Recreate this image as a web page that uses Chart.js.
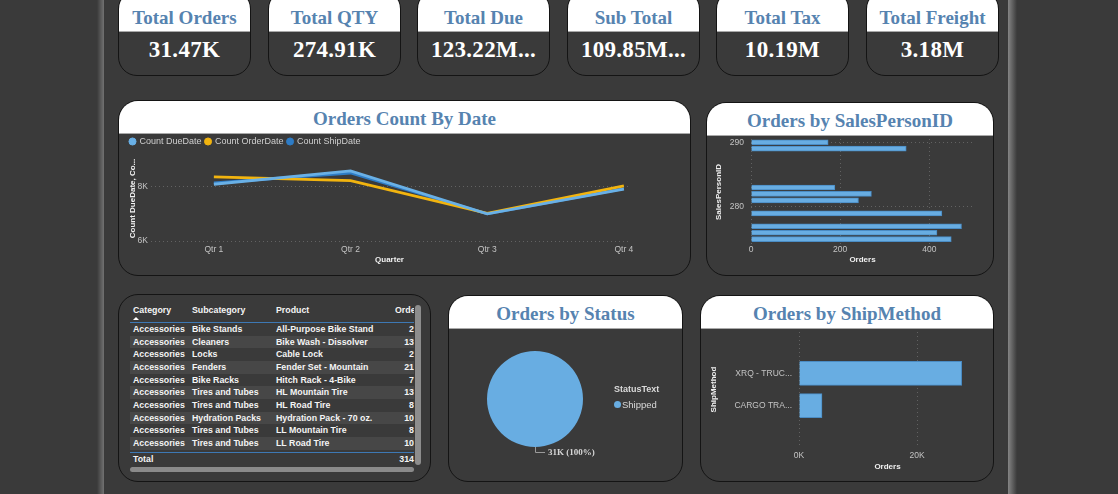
<!DOCTYPE html>
<html>
<head>
<meta charset="utf-8">
<title>Orders Dashboard</title>
<script src="https://cdn.jsdelivr.net/npm/chart.js@4.4.1/dist/chart.umd.min.js"></script>
<style>
  body { margin:0; width:1118px; height:494px; overflow:hidden; background:#3a3a3a; position:relative;
         font-family:"Liberation Sans", Arial, sans-serif; }
  .band { position:absolute; top:0; height:494px; }
  .card { position:absolute; box-sizing:border-box; border:1px solid #141414; border-radius:20px;
          background:#3a3a3a; overflow:hidden; }
  .hdr { position:absolute; left:0; right:0; top:0; background:#fff; border-bottom:1px solid #a9a9a9;
         color:#5683b0; font:bold 19px "Liberation Serif", serif; text-align:center; white-space:nowrap; }
  .kval { position:absolute; left:0; right:0; text-align:center; color:#fff;
          font:bold 23px "Liberation Serif", serif; letter-spacing:0.3px; }
  canvas { position:absolute; }
  .t { position:absolute; color:#f4f4f4; font:bold 8.8px "Liberation Sans", Arial, sans-serif; white-space:nowrap; }
  .lg { position:absolute; color:#d9d9d9; white-space:nowrap; font-family:"Liberation Sans", Arial, sans-serif; }
</style>
</head>
<body>
<div class="band" style="left:97px;width:7px;background:linear-gradient(to right,#3a3a3a,#727272);"></div>
<div class="band" style="left:1008px;width:9px;background:linear-gradient(to right,#858585,#3a3a3a);"></div>

<div id="kpis"></div>

<div class="card" style="left:118px;top:100px;width:573px;height:176px;">
  <div class="hdr" style="height:32px;line-height:36px;">Orders Count By Date</div>
</div>
<div class="card" style="left:706px;top:102px;width:288px;height:174px;">
  <div class="hdr" style="height:32px;line-height:36px;">Orders by SalesPersonID</div>
</div>
<div class="card" style="left:118px;top:294px;width:313px;height:188px;"></div>
<div class="card" style="left:448px;top:295px;width:235px;height:187px;">
  <div class="hdr" style="height:32px;line-height:36px;">Orders by Status</div>
</div>
<div class="card" style="left:700px;top:295px;width:294px;height:187px;">
  <div class="hdr" style="height:32px;line-height:36px;">Orders by ShipMethod</div>
</div>

<canvas id="lineCv" width="571" height="141" style="left:119px;top:133px;"></canvas>
<canvas id="spCv" width="286" height="140" style="left:707px;top:134px;"></canvas>
<canvas id="pieCv" width="234" height="153" style="left:449px;top:328px;"></canvas>
<canvas id="shipCv" width="292" height="153" style="left:701px;top:328px;"></canvas>

<div class="lg" style="left:614px;top:384px;font-weight:bold;font-size:9px;">StatusText</div>
<div style="position:absolute;left:614px;top:401px;width:7px;height:7px;border-radius:50%;background:#68ade2;"></div>
<div class="lg" id="statusLegend" style="left:622px;top:399px;font-size:9.5px;"></div>

<div id="tbl"></div>

<script>
// ---- data ----
const kpiTitles = ['Total Orders', 'Total QTY', 'Total Due', 'Sub Total', 'Total Tax', 'Total Freight'];
const kpiValues = ['31.47K', '274.91K', '123.22M...', '109.85M...', '10.19M', '3.18M'];

const quarters = ['Qtr 1', 'Qtr 2', 'Qtr 3', 'Qtr 4'];
const countDueDate   = [8070, 8560, 6990, 7890];
const countOrderDate = [8340, 8200, 7010, 8010];
const countShipDate  = [8120, 8480, 6990, 7910];
const dateTicks      = [6000, 8000];

const salesPersonIds    = [290, 289, 283, 282, 281, 279, 277, 276, 275];
const salesPersonOrders = [173, 348, 188, 270, 241, 428, 472, 417, 449];
const salesPersonTicks  = [280, 290];
const salesOrderTicks   = [0, 200, 400];

const statusText   = ['Shipped'];
const statusOrders = [31470];

const shipMethods    = ['XRQ - TRUC...', 'CARGO TRA...'];
const shipOrders     = [27570, 3900];
const shipOrderTicks = [0, 20000];

const tblHeader      = ['Category', 'Subcategory', 'Product', 'Orders'];
const tblCategory    = ['Accessories', 'Accessories', 'Accessories', 'Accessories', 'Accessories', 'Accessories',
                        'Accessories', 'Accessories', 'Accessories', 'Accessories', 'Accessories'];
const tblSubcategory = ['Bike Stands', 'Cleaners', 'Locks', 'Fenders', 'Bike Racks', 'Tires and Tubes',
                        'Tires and Tubes', 'Hydration Packs', 'Tires and Tubes', 'Tires and Tubes', 'Pumps'];
const tblProduct     = ['All-Purpose Bike Stand', 'Bike Wash - Dissolver', 'Cable Lock', 'Fender Set - Mountain',
                        'Hitch Rack - 4-Bike', 'HL Mountain Tire', 'HL Road Tire', 'Hydration Pack - 70 oz.',
                        'LL Mountain Tire', 'LL Road Tire', 'Minipump'];
const tblOrders      = ['2', '13', '2', '21', '7', '13', '8', '10', '8', '10', '8'];
const tblTotal       = '314';

// ---- KPI cards ----
const kpiLeft = [118, 268, 417, 567, 716, 866];
let kh = '';
kpiTitles.forEach((t, i) => {
  kh += '<div class="card" style="left:' + kpiLeft[i] + 'px;top:-10px;width:133px;height:86px;border-radius:19px;">' +
        '<div class="hdr" style="height:40px;line-height:20px;"><div style="position:absolute;left:0;right:0;top:17px;">' + t + '</div></div>' +
        '<div class="kval" style="top:45px;line-height:28px;">' + kpiValues[i] + '</div></div>';
});
document.getElementById('kpis').innerHTML = kh;

// ---- table ----
const colX = [133, 192, 276];
const rowH = 12.67;
let th = '';
tblHeader.slice(0, 3).forEach((h, i) => {
  th += '<div class="t" style="left:' + colX[i] + 'px;top:305px;">' + h + '</div>';
});
th += '<div style="position:absolute;left:395px;top:300px;width:19px;height:16px;overflow:hidden;">' +
      '<div class="t" style="left:0;top:5px;">' + tblHeader[3] + '</div></div>';
th += '<div style="position:absolute;left:133px;top:317px;width:0;height:0;border-left:3px solid transparent;border-right:3px solid transparent;border-bottom:3px solid #fff;"></div>';
th += '<div style="position:absolute;left:130px;top:322px;width:284px;height:1px;background:#3d78b4;"></div>';
let body = '';
tblCategory.forEach((c, i) => {
  const top = i * rowH;
  if (i % 2 === 1) body += '<div style="position:absolute;left:0;top:' + top + 'px;width:284px;height:' + rowH + 'px;background:#474747;"></div>';
  body += '<div class="t" style="left:3px;top:' + (top + 1) + 'px;">' + c + '</div>' +
          '<div class="t" style="left:62px;top:' + (top + 1) + 'px;">' + tblSubcategory[i] + '</div>' +
          '<div class="t" style="left:146px;top:' + (top + 1) + 'px;">' + tblProduct[i] + '</div>' +
          '<div class="t" style="right:0;top:' + (top + 1) + 'px;">' + tblOrders[i] + '</div>';
});
th += '<div style="position:absolute;left:130px;top:323px;width:284px;height:129px;overflow:hidden;">' + body + '</div>';
th += '<div style="position:absolute;left:130px;top:452px;width:284px;height:1px;background:#3d78b4;"></div>';
th += '<div class="t" style="left:133px;top:454px;">Total</div>';
th += '<div class="t" style="left:384px;width:30px;text-align:right;top:454px;">' + tblTotal + '</div>';
th += '<div style="position:absolute;left:415px;top:305px;width:6px;height:160px;border-radius:3px;background:#8d8d8d;"></div>';
th += '<div style="position:absolute;left:130px;top:467px;width:284px;height:5px;border-radius:3px;background:#8a8a8a;"></div>';
document.getElementById('tbl').innerHTML = th;

document.getElementById('statusLegend').textContent = statusText[0];

// ---- charts ----
Chart.defaults.font.family = '"Liberation Sans", Arial, sans-serif';
Chart.defaults.color = '#c4c4c4';
Chart.defaults.animation = false;

const axisTitle = (text, pad) => ({ display: true, text: text, color: '#f0f0f0', font: { size: 8, weight: 'bold' }, padding: pad });
const dotted = { display: false, dash: [1, 3] };
const gridOpt = { color: '#626262', drawTicks: false };
const setTicks = list => s => { s.ticks = list.map(v => ({ value: v })); };
// fixed axis width, and no extra label padding pushed into the chart area
const fixWidth = w => s => { s.width = w; s.paddingTop = 0; s.paddingBottom = 0; };

new Chart(document.getElementById('lineCv'), {
  type: 'line',
  data: {
    datasets: [
      { label: 'Count DueDate', data: countDueDate.map((v, i) => ({ x: i + 1, y: v })), borderColor: '#69b0e6', backgroundColor: '#69b0e6' },
      { label: 'Count OrderDate', data: countOrderDate.map((v, i) => ({ x: i + 1, y: v })), borderColor: '#f2b40f', backgroundColor: '#f2b40f' },
      { label: 'Count ShipDate', data: countShipDate.map((v, i) => ({ x: i + 1, y: v })), borderColor: '#2e7cc6', backgroundColor: '#2e7cc6' }
    ]
  },
  options: {
    responsive: false,
    layout: { padding: { left: 7, right: 62, top: 0, bottom: 0 } },
    elements: { point: { radius: 0 }, line: { borderWidth: 2.8, tension: 0 } },
    plugins: {
      legend: { position: 'top', align: 'start',
        labels: { usePointStyle: true, pointStyle: 'circle', boxWidth: 5, boxHeight: 5, padding: 4, color: '#cfcfcf', font: { size: 9 } } },
      tooltip: { enabled: false }
    },
    scales: {
      x: {
        type: 'linear', min: 0.54, max: 4.03,
        grid: { display: false, drawTicks: false }, border: { display: false },
        afterBuildTicks: setTicks(quarters.map((q, i) => i + 1)),
        ticks: { padding: 4, font: { size: 8.5 }, callback: v => quarters[v - 1] },
        title: axisTitle('Quarter', { top: 0, bottom: 9 }),
        afterFit: s => { s.height = 33; }
      },
      y: {
        min: 6000, max: 9100,
        grid: gridOpt, border: dotted,
        afterBuildTicks: setTicks(dateTicks),
        ticks: { padding: 3, font: { size: 8.5 }, callback: v => (v / 1000) + 'K' },
        title: axisTitle('Count DueDate, Co...', { top: 2, bottom: 0 }),
        afterFit: s => { s.width = 25; }
      }
    }
  }
});

new Chart(document.getElementById('spCv'), {
  type: 'bar',
  data: {
    datasets: [{
      data: salesPersonIds.map((id, i) => ({ x: salesPersonOrders[i], y: id })),
      backgroundColor: '#68ade2', borderColor: '#4a8cc4', borderWidth: 1, barThickness: 5
    }]
  },
  options: {
    indexAxis: 'y', responsive: false,
    layout: { padding: { top: 5, right: 19 } },
    plugins: { legend: { display: false }, tooltip: { enabled: false } },
    scales: {
      x: {
        type: 'linear', min: 0, max: 500,
        grid: gridOpt, border: dotted,
        afterBuildTicks: setTicks(salesOrderTicks),
        ticks: { padding: 0, font: { size: 8.5 } },
        title: axisTitle('Orders', { top: 0, bottom: 9 }),
        afterFit: s => { s.height = 29; }
      },
      y: {
        type: 'linear', min: 274.1, max: 290.5, offset: false,
        grid: Object.assign({ offset: false }, gridOpt), border: dotted,
        afterBuildTicks: setTicks(salesPersonTicks),
        ticks: { padding: 7, font: { size: 8.5 } },
        title: axisTitle('SalesPersonID', { top: 7, bottom: 0 }),
        afterFit: fixWidth(44)
      }
    }
  }
});

const pieLabel = {
  id: 'pieLabel',
  afterDatasetsDraw(chart) {
    const arc = chart.getDatasetMeta(0).data[0];
    const p = arc.getProps(['x', 'y', 'outerRadius'], true);
    const total = statusOrders.reduce((a, b) => a + b, 0);
    const txt = Math.round(statusOrders[0] / 1000) + 'K (' + Math.round(statusOrders[0] / total * 100) + '%)';
    const ctx = chart.ctx;
    const by = p.y + p.outerRadius;
    ctx.save();
    ctx.strokeStyle = '#9a9a9a';
    ctx.lineWidth = 1;
    ctx.beginPath();
    ctx.moveTo(p.x + 0.5, by);
    ctx.lineTo(p.x + 0.5, by + 5.5);
    ctx.lineTo(p.x + 10, by + 5.5);
    ctx.stroke();
    ctx.font = 'bold 9px "Liberation Serif", serif';
    ctx.fillStyle = '#d6d6d6';
    ctx.textBaseline = 'middle';
    ctx.fillText(txt, p.x + 13, by + 6);
    ctx.restore();
  }
};

new Chart(document.getElementById('pieCv'), {
  type: 'pie',
  data: { labels: statusText, datasets: [{ data: statusOrders, backgroundColor: '#68ade2', borderWidth: 0 }] },
  options: {
    responsive: false,
    layout: { padding: { left: 38, right: 100, top: 23, bottom: 34 } },
    plugins: { legend: { display: false }, tooltip: { enabled: false } }
  },
  plugins: [pieLabel]
});

new Chart(document.getElementById('shipCv'), {
  type: 'bar',
  data: {
    datasets: [{
      data: shipMethods.map((m, i) => ({ x: shipOrders[i], y: i })),
      backgroundColor: '#68ade2', borderColor: '#4a8cc4', borderWidth: 1, barThickness: 24
    }]
  },
  options: {
    indexAxis: 'y', responsive: false,
    layout: { padding: { top: 4, right: 17 } },
    plugins: { legend: { display: false }, tooltip: { enabled: false } },
    scales: {
      x: {
        type: 'linear', min: 0, max: 30000,
        grid: gridOpt, border: dotted,
        afterBuildTicks: setTicks(shipOrderTicks),
        ticks: { padding: 4, font: { size: 8.5 }, callback: v => (v / 1000) + 'K' },
        title: axisTitle('Orders', { top: 0, bottom: 9 }),
        afterFit: s => { s.height = 34; }
      },
      y: {
        type: 'linear', reverse: true, min: -1.28, max: 2.28, offset: false,
        grid: { display: false, drawTicks: false }, border: { display: false },
        afterBuildTicks: setTicks(shipMethods.map((m, i) => i)),
        ticks: { padding: 7, font: { size: 8.5 }, callback: v => shipMethods[v] },
        title: axisTitle('ShipMethod', { top: 8, bottom: 0 }),
        afterFit: fixWidth(98)
      }
    }
  }
});
</script>
</body>
</html>
